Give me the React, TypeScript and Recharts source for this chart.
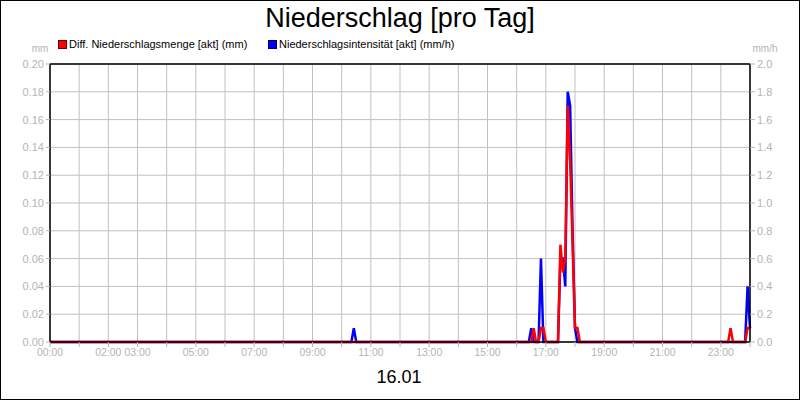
import React from 'react';
import { LineChart, Line, XAxis, YAxis, CartesianGrid, ReferenceLine } from 'recharts';

// Diff. Niederschlagsmenge [akt] (mm) – left axis
const redTimes = [
  '00:00', '16:30', '16:35', '16:40', '16:45', '16:50', '16:55', '17:00',
  '17:25', '17:30', '17:35', '17:40', '17:45', '17:50', '17:55', '18:00', '18:05', '18:10',
  '23:15', '23:20', '23:25', '23:50', '23:55', '24:00',
];
const redValues = [
  0, 0, 0.01, 0, 0, 0.01, 0.01, 0,
  0, 0.07, 0.05, 0.06, 0.17, 0.13, 0.07, 0.01, 0.01, 0,
  0, 0.01, 0, 0, 0.01, 0.01,
];

// Niederschlagsintensität [akt] (mm/h) – right axis
const blueTimes = [
  '00:00', '10:20', '10:25', '10:30', '16:25', '16:30', '16:35', '16:45', '16:50', '16:55',
  '17:25', '17:30', '17:35', '17:40', '17:45', '17:50', '17:55', '18:00', '18:05',
  '23:50', '23:55', '24:00',
];
const blueValues = [
  0, 0, 0.1, 0, 0, 0.1, 0, 0, 0.6, 0,
  0, 0.6, 0.6, 0.4, 1.8, 1.7, 0.8, 0.1, 0,
  0, 0.4, 0.1,
];

const hourTicks = [0, 1, 2, 3, 4, 5, 6, 7, 8, 9, 10, 11, 12, 13, 14, 15, 16, 17, 18, 19, 20, 21, 22, 23, 24];
const labelledHours = [0, 2, 3, 5, 7, 9, 11, 13, 15, 17, 19, 21, 23];
const leftTicks = [0, 0.02, 0.04, 0.06, 0.08, 0.1, 0.12, 0.14, 0.16, 0.18, 0.2];
const rightTicks = [0, 0.2, 0.4, 0.6, 0.8, 1.0, 1.2, 1.4, 1.6, 1.8, 2.0];

const toHours = (s: string) => {
  const [h, m] = s.split(':').map(Number);
  return h + m / 60;
};

const redData = redTimes.map((t, i) => ({ t: toHours(t), v: redValues[i] }));
const blueData = blueTimes.map((t, i) => ({ t: toHours(t), v: blueValues[i] }));

const font = '"Liberation Sans", Arial, sans-serif';
const grey = '#b4b4b4';
const tickStyle = { fill: grey, fontSize: 11, fontFamily: font };
const xTickStyle = { fill: grey, fontSize: 10.4, fontFamily: font };

const pad = (n: number) => String(n).padStart(2, '0') + ':00';

export default function App() {
  return (
    <div
      style={{
        position: 'absolute',
        left: 0,
        top: 0,
        width: 800,
        height: 400,
        boxSizing: 'border-box',
        border: '1px solid #000',
        background: '#fff',
        fontFamily: font,
      }}
    >
      <div style={{ position: 'absolute', left: -1, top: -1 }}>
        <LineChart width={800} height={400} margin={{ top: 64, right: 0, bottom: 28, left: 0 }}>
          <CartesianGrid yAxisId="left" stroke="#c0c0c0" strokeWidth={1} />
          <XAxis
            dataKey="t"
            type="number"
            domain={[0, 24]}
            ticks={hourTicks}
            interval={0}
            height={30}
            tickSize={5}
            tickMargin={2}
            tick={xTickStyle}
            tickLine={{ stroke: grey }}
            axisLine={{ stroke: '#000', strokeWidth: 1.5 }}
            tickFormatter={(v: number) => (labelledHours.includes(v) ? pad(v) : '')}
          />
          <YAxis
            yAxisId="left"
            domain={[0, 0.2]}
            ticks={leftTicks}
            interval={0}
            width={50}
            tickSize={4}
            tickMargin={2}
            tick={tickStyle}
            tickLine={{ stroke: grey }}
            axisLine={{ stroke: '#000', strokeWidth: 1.5 }}
            tickFormatter={(v: number) => v.toFixed(2)}
          />
          <YAxis
            yAxisId="right"
            orientation="right"
            domain={[0, 2]}
            ticks={rightTicks}
            interval={0}
            width={50}
            tickSize={5}
            tickMargin={2}
            tick={tickStyle}
            tickLine={{ stroke: grey }}
            axisLine={{ stroke: '#000', strokeWidth: 1.5 }}
            tickFormatter={(v: number) => v.toFixed(1)}
          />
          <ReferenceLine yAxisId="left" y={0.2} stroke="#000" strokeWidth={1.5} />
          <Line
            yAxisId="right"
            data={blueData}
            dataKey="v"
            type="linear"
            stroke="#0000ff"
            strokeWidth={2.5}
            dot={false}
            activeDot={false}
            isAnimationActive={false}
          />
          <Line
            yAxisId="left"
            data={redData}
            dataKey="v"
            type="linear"
            stroke="#ff0000"
            strokeWidth={2.5}
            dot={false}
            activeDot={false}
            isAnimationActive={false}
          />
        </LineChart>
      </div>
      <svg
        width={800}
        height={400}
        style={{ position: 'absolute', left: -1, top: -1, pointerEvents: 'none' }}
        fontFamily={font}
      >
        <text x={400} y={27} textAnchor="middle" fontSize={27} fill="#000">
          Niederschlag [pro Tag]
        </text>
        <rect x={58.5} y={40.5} width={8} height={8} fill="#ff0000" stroke="#600" />
        <text x={69} y={48} fontSize={11} fill="#000">
          Diff. Niederschlagsmenge [akt] (mm)
        </text>
        <rect x={268.5} y={40.5} width={8} height={8} fill="#0000ff" stroke="#006" />
        <text x={279} y={48} fontSize={11} fill="#000">
          Niederschlagsintensität [akt] (mm/h)
        </text>
        <text x={40} y={52} textAnchor="middle" fontSize={10} fill={grey}>
          mm
        </text>
        <text x={765} y={52} textAnchor="middle" fontSize={10} fill={grey}>
          mm/h
        </text>
        <text x={399} y={383} textAnchor="middle" fontSize={18} fill="#000">
          16.01
        </text>
      </svg>
    </div>
  );
}
